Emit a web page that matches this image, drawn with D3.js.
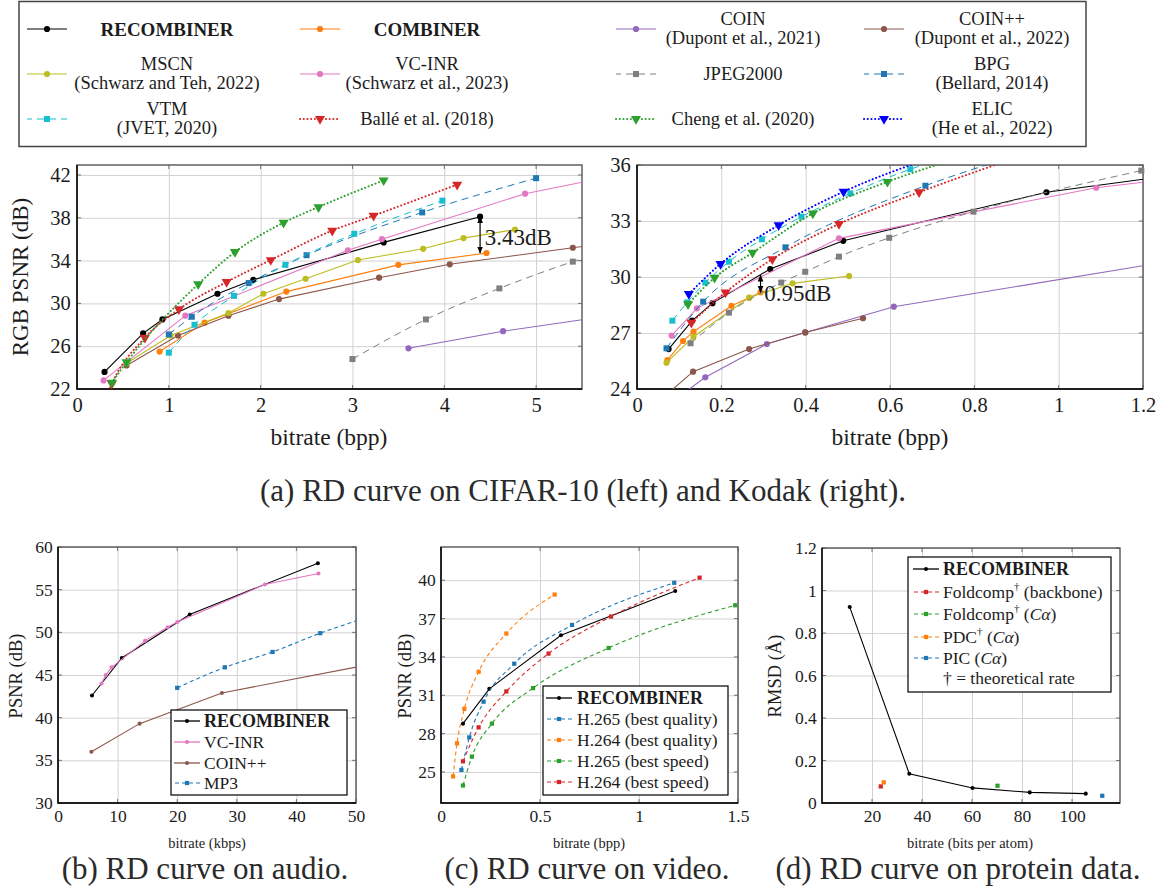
<!DOCTYPE html>
<html>
<head>
<meta charset="utf-8">
<script src="https://cdn.jsdelivr.net/npm/d3@7"></script>
<style>
body { margin: 0; background: #fff; }
svg text { font-family: 'Liberation Serif', 'DejaVu Serif', serif; }
</style>
</head>
<body>
<svg id="chart" width="1163" height="887"></svg>
<script>
'use strict';

let FONT = "'Liberation Serif', 'DejaVu Serif', serif";
let TEXT = '#1c1c1c';

// ---------- (a) CIFAR-10, [bpp, PSNR] ----------
let cifarRecombiner = [[0.30,23.6],[0.72,27.2],[0.93,28.5],[1.53,30.9],[1.92,32.2],[3.34,35.7],[4.39,38.1]];
let cifarCombiner = [[0.90,25.5],[1.39,28.2],[2.28,31.1],[3.50,33.6],[4.46,34.7]];
let cifarCoin = [[3.61,25.8],[4.64,27.4],[6.0,29.1]];
let cifarCoinpp = [[0.54,24.2],[1.10,27.0],[1.65,28.85],[2.20,30.4],[3.29,32.4],[4.06,33.65],[5.40,35.2],[6.0,35.9]];
let cifarMscn = [[0.54,24.4],[1.02,27.0],[1.65,29.1],[2.03,30.9],[2.49,32.3],[3.06,34.05],[3.77,35.1],[4.21,36.1],[4.77,36.9]];
let cifarVcinr = [[0.29,22.8],[1.18,28.85],[2.95,34.96],[3.32,36.0],[4.88,40.25],[5.9,42.0]];
let cifarJpeg2000 = [[3.0,24.8],[3.80,28.5],[4.60,31.4],[5.40,33.9],[6.2,36.0]];
let cifarBpg = [[1.0,27.1],[1.25,28.75],[1.87,31.9],[2.5,34.5],[3.76,38.5],[5.0,41.7]];
let cifarVtm = [[1.0,25.4],[1.28,28.0],[1.71,30.7],[2.27,33.6],[3.02,36.5],[3.98,39.6]];
let cifarBalle = [[0.33,21.5],[0.38,22.5],[0.74,26.8],[1.11,29.45],[1.63,32.0],[2.11,34.05],[2.78,36.8],[3.23,38.2],[4.14,41.1]];
let cifarCheng = [[0.38,22.6],[0.54,24.5],[1.32,31.8],[1.72,34.8],[2.25,37.55],[2.63,39.0],[3.34,41.5]];

// ---------- (a) Kodak ----------
let kodakRecombiner = [[0.075,26.14],[0.131,27.66],[0.179,28.6],[0.316,30.43],[0.489,31.94],[0.971,34.54],[1.4,35.84]];
let kodakCombiner = [[0.072,25.55],[0.109,26.57],[0.134,27.07],[0.224,28.46],[0.266,28.89],[0.293,29.18]];
let kodakCoin = [[0.10,23.6],[0.162,24.63],[0.308,26.41],[0.399,27.03],[0.609,28.41],[1.4,31.34]];
let kodakCoinpp = [[0.07,23.7],[0.133,24.93],[0.266,26.14],[0.399,27.03],[0.536,27.79]];
let kodakMscn = [[0.07,25.41],[0.134,26.8],[0.266,28.9],[0.369,29.66],[0.503,30.05]];
let kodakVcinr = [[0.082,26.86],[0.142,28.32],[0.479,32.07],[1.089,34.78],[1.4,35.6]];
let kodakJpeg2000 = [[0.127,26.45],[0.218,28.09],[0.342,29.7],[0.399,30.28],[0.479,31.09],[0.598,32.1],[0.798,33.5],[1.196,35.7]];
let kodakBpg = [[0.07,26.18],[0.157,28.68],[0.352,31.59],[0.684,34.89],[0.9,36.5]];
let kodakVtm = [[0.084,27.66],[0.119,28.64],[0.162,29.7],[0.218,30.82],[0.296,32.02],[0.39,33.23],[0.506,34.48],[0.648,35.77],[0.75,36.5]];
let kodakBalle = [[0.129,27.55],[0.210,29.18],[0.321,30.96],[0.479,32.84],[0.669,34.54],[0.9,36.4]];
let kodakCheng = [[0.121,28.54],[0.184,29.96],[0.274,31.3],[0.417,33.41],[0.594,35.1],[0.8,36.6]];
let kodakElic = [[0.123,29.09],[0.198,30.7],[0.336,32.78],[0.49,34.57],[0.7,36.4]];

// ---------- (b) audio, [kbps, PSNR] ----------
let audioRecombiner = [[5.7,42.6],[10.7,47.0],[22.1,52.1],[43.6,58.1]];
let audioVcinr = [[7.3,44.0],[8.0,45.0],[9.0,45.9],[14.6,49.0],[18.4,50.6],[20.0,51.2],[34.7,55.6],[43.7,56.9]];
let audioCoinpp = [[5.6,36.0],[13.7,39.3],[27.5,42.9],[55,46.6]];
let audioMp3 = [[20,43.5],[28,45.9],[36,47.7],[44,49.9],[52,51.8]];

// ---------- (c) video, [bpp, PSNR] ----------
let videoRecombiner = [[0.111,28.78],[0.244,31.5],[0.606,35.7],[1.183,39.16]];
let videoH265Quality = [[0.103,25.16],[0.143,27.7],[0.215,30.5],[0.37,33.47],[0.662,36.5],[1.178,39.8]];
let videoH264Quality = [[0.061,24.65],[0.081,27.24],[0.118,29.94],[0.19,32.84],[0.33,35.83],[0.574,38.88]];
let videoH265Speed = [[0.111,23.94],[0.156,26.2],[0.257,28.78],[0.465,31.56],[0.847,34.7],[1.486,38.04]];
let videoH264Speed = [[0.111,25.83],[0.19,28.49],[0.33,31.3],[0.543,34.26],[0.859,37.16],[1.306,40.2]];

// ---------- (d) protein, [bits per atom, RMSD] ----------
let proteinRecombiner = [[11.1,0.922],[34.9,0.138],[60.2,0.071],[83.1,0.05],[105.5,0.044]];
let proteinFoldcompBackbone = [[23.5,0.078]];
let proteinFoldcompCa = [[70.2,0.081]];
let proteinPdc = [[24.7,0.097]];
let proteinPic = [[112.1,0.034]];

// tick values
let cifarXTicks = [0,1,2,3,4,5];
let cifarYTicks = [22,26,30,34,38,42];
let kodakXTicks = [0,0.2,0.4,0.6,0.8,1,1.2];
let kodakYTicks = [24,27,30,33,36];
let audioXTicks = [0,10,20,30,40,50];
let audioYTicks = [30,35,40,45,50,55,60];
let videoXTicks = [0,0.5,1,1.5];
let videoYTicks = [25,28,31,34,37,40];
let proteinXTicks = [20,40,60,80,100];
let proteinYTicks = [0,0.2,0.4,0.6,0.8,1,1.2];

let STYLE = {
    recombiner: {color: '#000000', marker: 'circle'},
    combiner:   {color: '#ff7f0e', marker: 'circle'},
    coin:       {color: '#9467bd', marker: 'circle'},
    coinpp:     {color: '#8c564b', marker: 'circle'},
    mscn:       {color: '#bcbd22', marker: 'circle'},
    vcinr:      {color: '#e377c2', marker: 'circle'},
    jpeg2000:   {color: '#7f7f7f', marker: 'square', dash: true},
    bpg:        {color: '#1f77b4', marker: 'square', dash: true},
    vtm:        {color: '#17becf', marker: 'square', dash: true},
    balle:      {color: '#d62728', marker: 'tri', dot: true},
    cheng:      {color: '#2ca02c', marker: 'tri', dot: true},
    elic:       {color: '#0000ff', marker: 'tri', dot: true},
    vBlue:      {color: '#1f77b4', marker: 'square', dash: true},
    vOrange:    {color: '#ff7f0e', marker: 'square', dash: true},
    vGreen:     {color: '#2ca02c', marker: 'square', dash: true},
    vRed:       {color: '#d62728', marker: 'square', dash: true}
};

let svg = d3.select('#chart');
let defs = svg.append('defs');
defs.append('marker').attr('id', 'arrowHead')
    .attr('viewBox', '0 0 10 10').attr('refX', 9).attr('refY', 5)
    .attr('markerWidth', 6).attr('markerHeight', 6)
    .attr('orient', 'auto-start-reverse')
    .append('path').attr('d', 'M0,1 L10,5 L0,9 z').attr('fill', '#000');

function styleTicks(a, fs) {
    a.attr('font-family', null);
    a.selectAll('text').attr('font-size', fs).style('font-family', FONT).attr('fill', TEXT);
}

function makePanel(name, box, xDomain, yDomain, xTicks, yTicks, tickFs) {
    let x = d3.scaleLinear().domain(xDomain).range([box.left, box.right]);
    let y = d3.scaleLinear().domain(yDomain).range([box.bottom, box.top]);
    let w = box.right - box.left, h = box.bottom - box.top;
    defs.append('clipPath').attr('id', 'clip-' + name).append('rect')
        .attr('x', box.left).attr('y', box.top).attr('width', w).attr('height', h);

    let g = svg.append('g');
    // grid + tick labels from d3 axes
    g.append('g').attr('transform', 'translate(0,' + box.bottom + ')')
        .call(d3.axisBottom(x).tickValues(xTicks).tickSize(-h).tickPadding(tickFs * 0.4).tickFormat(d3.format('~g')))
        .call(a => a.select('.domain').remove())
        .call(a => a.selectAll('line').attr('stroke', '#d2d2d2'))
        .call(a => styleTicks(a, tickFs));
    g.append('g').attr('transform', 'translate(' + box.left + ',0)')
        .call(d3.axisLeft(y).tickValues(yTicks).tickSize(-w).tickPadding(tickFs * 0.3).tickFormat(d3.format('~g')))
        .call(a => a.select('.domain').remove())
        .call(a => a.selectAll('line').attr('stroke', '#d2d2d2'))
        .call(a => styleTicks(a, tickFs));

    // small inner tick marks on all four sides
    let tk = g.append('g').attr('stroke', '#555').attr('stroke-width', 0.8);
    xTicks.forEach(function(v) {
        tk.append('line').attr('x1', x(v)).attr('x2', x(v)).attr('y1', box.bottom).attr('y2', box.bottom - 4);
        tk.append('line').attr('x1', x(v)).attr('x2', x(v)).attr('y1', box.top).attr('y2', box.top + 4);
    });
    yTicks.forEach(function(v) {
        tk.append('line').attr('y1', y(v)).attr('y2', y(v)).attr('x1', box.left).attr('x2', box.left + 4);
        tk.append('line').attr('y1', y(v)).attr('y2', y(v)).attr('x1', box.right).attr('x2', box.right - 4);
    });

    // frame
    g.append('rect').attr('x', box.left).attr('y', box.top).attr('width', w).attr('height', h)
        .attr('fill', 'none').attr('stroke', '#555').attr('stroke-width', 1.4);
    g.append('path').attr('d', 'M' + box.left + ',' + box.top + 'V' + box.bottom + 'H' + box.right)
        .attr('fill', 'none').attr('stroke', '#000').attr('stroke-width', 1.4);

    let sg = svg.append('g');
    return {x: x, y: y, g: sg, clip: 'url(#clip-' + name + ')', xDomain: xDomain, yDomain: yDomain};
}

function markerPath(kind, big) {
    if (kind === 'circle') return d3.symbol().type(d3.symbolCircle).size(big ? 30 : 13)();
    if (kind === 'square') return d3.symbol().type(d3.symbolSquare).size(big ? 36 : 18)();
    return d3.symbol().type(d3.symbolTriangle).size(big ? 44 : 20)();
}

function drawMarker(g, kind, color, px, py, big) {
    g.append('path').attr('d', markerPath(kind, big))
        .attr('transform', 'translate(' + px + ',' + py + ')' + (kind === 'tri' ? ' rotate(180)' : ''))
        .attr('fill', color).attr('stroke', 'none');
}

function drawSeries(p, data, st, big) {
    let curved = st.dash || st.dot;
    let line = d3.line().x(d => p.x(d[0])).y(d => p.y(d[1]))
        .curve(curved ? d3.curveMonotoneX : d3.curveLinear);
    let path = p.g.append('path').attr('d', line(data)).attr('clip-path', p.clip)
        .attr('fill', 'none').attr('stroke', st.color);
    if (st.dot) {
        path.attr('stroke-width', 2).attr('stroke-dasharray', '0.1,3.6').attr('stroke-linecap', 'round');
    } else if (st.dash) {
        path.attr('stroke-width', big ? 1 : 1.1).attr('stroke-dasharray', big ? '7,5' : '4,3');
    } else {
        path.attr('stroke-width', 1.1);
    }
    data.forEach(function(d) {
        if (d[0] < p.xDomain[0] || d[0] > p.xDomain[1] || d[1] < p.yDomain[0] || d[1] > p.yDomain[1]) return;
        drawMarker(p.g, st.marker, st.color, p.x(d[0]), p.y(d[1]), big);
    });
}

function addText(x, y, str, size, opts) {
    opts = opts || {};
    let t = svg.append('text').attr('x', x).attr('y', y).text(str)
        .style('font-family', FONT).attr('font-size', size).attr('fill', opts.fill || TEXT)
        .attr('text-anchor', opts.anchor || 'middle').attr('dominant-baseline', 'central');
    if (opts.bold) t.attr('font-weight', 'bold');
    if (opts.rotate) t.attr('transform', 'rotate(-90,' + x + ',' + y + ')');
    return t;
}

function doubleArrow(p, xv, y1, y2) {
    p.g.append('line').attr('x1', p.x(xv)).attr('x2', p.x(xv))
        .attr('y1', p.y(y1)).attr('y2', p.y(y2))
        .attr('stroke', '#000').attr('stroke-width', 1.2)
        .attr('marker-start', 'url(#arrowHead)').attr('marker-end', 'url(#arrowHead)');
}

// ================= top legend =================
let topLegend = [
    {key: 'recombiner', lines: ['RECOMBINER'], bold: true},
    {key: 'combiner', lines: ['COMBINER'], bold: true},
    {key: 'coin', lines: ['COIN', '(Dupont et al., 2021)']},
    {key: 'coinpp', lines: ['COIN++', '(Dupont et al., 2022)']},
    {key: 'mscn', lines: ['MSCN', '(Schwarz and Teh, 2022)']},
    {key: 'vcinr', lines: ['VC-INR', '(Schwarz et al., 2023)']},
    {key: 'jpeg2000', lines: ['JPEG2000']},
    {key: 'bpg', lines: ['BPG', '(Bellard, 2014)']},
    {key: 'vtm', lines: ['VTM', '(JVET, 2020)']},
    {key: 'balle', lines: ['Ballé et al. (2018)']},
    {key: 'cheng', lines: ['Cheng et al. (2020)']},
    {key: 'elic', lines: ['ELIC', '(He et al., 2022)']}
];
svg.append('rect').attr('x', 19).attr('y', 1.5).attr('width', 1067).attr('height', 145)
    .attr('fill', '#fff').attr('stroke', '#444').attr('stroke-width', 1.5);
let colSample = [27, 300, 616, 864];
let colText = [167, 427, 743, 992];
let rowY = [29, 74, 119];
topLegend.forEach(function(e, i) {
    let c = i % 4, r = Math.floor(i / 4);
    let st = STYLE[e.key];
    let yy = rowY[r], x0 = colSample[c];
    let ln = svg.append('line').attr('x1', x0).attr('x2', x0 + 40).attr('y1', yy).attr('y2', yy)
        .attr('stroke', st.color);
    if (st.dot) ln.attr('stroke-width', 2).attr('stroke-dasharray', '0.1,3.6').attr('stroke-linecap', 'round');
    else if (st.dash) ln.attr('stroke-width', 1).attr('stroke-dasharray', '7,5').attr('stroke-dashoffset', 2);
    else ln.attr('stroke-width', 1.1);
    drawMarker(svg, st.marker, st.color, x0 + 20, yy, true);
    if (e.lines.length === 1) {
        addText(colText[c], yy, e.lines[0], e.bold ? 19 : 18.5, {bold: e.bold});
    } else {
        addText(colText[c], yy - 10, e.lines[0], 18.5);
        addText(colText[c], yy + 9, e.lines[1], 18.5);
    }
});

// ================= (a) CIFAR-10 =================
let pc = makePanel('cifar', {left: 77, right: 582, top: 165, bottom: 389}, [0, 5.5], [22, 42.93], cifarXTicks, cifarYTicks, 20.5);
[[cifarRecombiner, 'recombiner'], [cifarCombiner, 'combiner'], [cifarCoin, 'coin'], [cifarCoinpp, 'coinpp'],
 [cifarMscn, 'mscn'], [cifarVcinr, 'vcinr'], [cifarJpeg2000, 'jpeg2000'], [cifarBpg, 'bpg'],
 [cifarVtm, 'vtm'], [cifarBalle, 'balle'], [cifarCheng, 'cheng']].forEach(function(s) {
    drawSeries(pc, s[0], STYLE[s[1]], true);
});
doubleArrow(pc, 4.39, 38.1, 34.7);
addText(pc.x(4.44), pc.y(36.2), '3.43dB', 23, {anchor: 'start'});
addText(20, 277, 'RGB PSNR (dB)', 23, {rotate: true});
addText(329, 437, 'bitrate (bpp)', 23.5);

// ================= (a) Kodak =================
let pk = makePanel('kodak', {left: 637, right: 1143, top: 165, bottom: 389}, [0, 1.2], [24, 36], kodakXTicks, kodakYTicks, 20.5);
[[kodakRecombiner, 'recombiner'], [kodakCombiner, 'combiner'], [kodakCoin, 'coin'], [kodakCoinpp, 'coinpp'],
 [kodakMscn, 'mscn'], [kodakVcinr, 'vcinr'], [kodakJpeg2000, 'jpeg2000'], [kodakBpg, 'bpg'],
 [kodakVtm, 'vtm'], [kodakBalle, 'balle'], [kodakCheng, 'cheng'], [kodakElic, 'elic']].forEach(function(s) {
    drawSeries(pk, s[0], STYLE[s[1]], true);
});
doubleArrow(pk, 0.293, 30.1, 29.18);
addText(pk.x(0.302), pk.y(29.1), '0.95dB', 23, {anchor: 'start'});
addText(890, 437, 'bitrate (bpp)', 23.5);

addText(583, 490, '(a) RD curve on CIFAR-10 (left) and Kodak (right).', 31, {fill: '#2a2a2a'});

// ================= bottom legends helper =================
function smallLegend(box, rows, sx, tx) {
    svg.append('rect').attr('x', box.left).attr('y', box.top)
        .attr('width', box.right - box.left).attr('height', box.bottom - box.top)
        .attr('fill', '#fff').attr('stroke', '#000').attr('stroke-width', 1.2);
    rows.forEach(function(r) {
        if (r.style) {
            let st = r.style;
            let ln = svg.append('line').attr('x1', sx).attr('x2', sx + 26).attr('y1', r.y).attr('y2', r.y)
                .attr('stroke', st.color).attr('stroke-width', st.dash ? 1.1 : 1.3);
            if (st.dash) ln.attr('stroke-dasharray', '4,3').attr('stroke-dashoffset', -1);
            drawMarker(svg, st.marker, st.color, sx + 13, r.y, false);
        }
        let t = svg.append('text').attr('x', tx).attr('y', r.y)
            .style('font-family', FONT).attr('font-size', 17.5).attr('fill', TEXT)
            .attr('dominant-baseline', 'central');
        if (r.bold) t.attr('font-weight', 'bold').attr('font-size', 18);
        r.parts.forEach(function(pt) {
            let ts = t.append('tspan').text(pt.t);
            if (pt.it) ts.attr('font-style', 'italic');
            if (pt.sup) ts.attr('font-size', 11).attr('baseline-shift', '55%');
        });
    });
}

// ================= (b) audio =================
let pa = makePanel('audio', {left: 58, right: 356, top: 547, bottom: 803}, [0, 50], [30, 60], audioXTicks, audioYTicks, 17.5);
drawSeries(pa, audioRecombiner, STYLE.recombiner, false);
drawSeries(pa, audioVcinr, STYLE.vcinr, false);
drawSeries(pa, audioCoinpp, STYLE.coinpp, false);
drawSeries(pa, audioMp3, STYLE.bpg, false);
smallLegend({left: 171, top: 710, right: 347, bottom: 795}, [
    {y: 721, style: STYLE.recombiner, bold: true, parts: [{t: 'RECOMBINER'}]},
    {y: 742, style: STYLE.vcinr, parts: [{t: 'VC-INR'}]},
    {y: 763, style: STYLE.coinpp, parts: [{t: 'COIN++'}]},
    {y: 783, style: STYLE.bpg, parts: [{t: 'MP3'}]}
], 174, 204);
addText(16, 676, 'PSNR (dB)', 18.5, {rotate: true});
addText(207, 843, 'bitrate (kbps)', 14.5);
addText(205, 868, '(b) RD curve on audio.', 31, {fill: '#2a2a2a'});

// ================= (c) video =================
let pv = makePanel('video', {left: 441, right: 738, top: 547, bottom: 803}, [0, 1.5], [22.57, 42.6], videoXTicks, videoYTicks, 17.5);
drawSeries(pv, videoRecombiner, STYLE.recombiner, false);
drawSeries(pv, videoH265Quality, STYLE.vBlue, false);
drawSeries(pv, videoH264Quality, STYLE.vOrange, false);
drawSeries(pv, videoH265Speed, STYLE.vGreen, false);
drawSeries(pv, videoH264Speed, STYLE.vRed, false);
smallLegend({left: 543, top: 686, right: 728, bottom: 795}, [
    {y: 698, style: STYLE.recombiner, bold: true, parts: [{t: 'RECOMBINER'}]},
    {y: 719, style: STYLE.vBlue, parts: [{t: 'H.265 (best quality)'}]},
    {y: 740, style: STYLE.vOrange, parts: [{t: 'H.264 (best quality)'}]},
    {y: 761, style: STYLE.vGreen, parts: [{t: 'H.265 (best speed)'}]},
    {y: 782, style: STYLE.vRed, parts: [{t: 'H.264 (best speed)'}]}
], 546, 577);
addText(405, 676, 'PSNR (dB)', 18.5, {rotate: true});
addText(589, 843, 'bitrate (bpp)', 14.5);
addText(587, 868, '(c) RD curve on video.', 31, {fill: '#2a2a2a'});

// ================= (d) protein =================
let pp = makePanel('protein', {left: 822, right: 1120, top: 548, bottom: 803}, [0, 119.2], [0, 1.2], proteinXTicks, proteinYTicks, 17.5);
drawSeries(pp, proteinRecombiner, STYLE.recombiner, false);
drawSeries(pp, proteinFoldcompBackbone, STYLE.vRed, false);
drawSeries(pp, proteinFoldcompCa, STYLE.vGreen, false);
drawSeries(pp, proteinPdc, STYLE.vOrange, false);
drawSeries(pp, proteinPic, STYLE.vBlue, false);
smallLegend({left: 908, top: 557, right: 1111, bottom: 692}, [
    {y: 569, style: STYLE.recombiner, bold: true, parts: [{t: 'RECOMBINER'}]},
    {y: 592, style: STYLE.vRed, parts: [{t: 'Foldcomp'}, {t: '†', sup: true}, {t: ' (backbone)'}]},
    {y: 614, style: STYLE.vGreen, parts: [{t: 'Foldcomp'}, {t: '†', sup: true}, {t: ' ('}, {t: 'Cα', it: true}, {t: ')'}]},
    {y: 637, style: STYLE.vOrange, parts: [{t: 'PDC'}, {t: '†', sup: true}, {t: ' ('}, {t: 'Cα', it: true}, {t: ')'}]},
    {y: 658, style: STYLE.vBlue, parts: [{t: 'PIC ('}, {t: 'Cα', it: true}, {t: ')'}]},
    {y: 678, parts: [{t: '† = theoretical rate'}]}
], 913, 943);
addText(775, 676, 'RMSD (Å)', 18.5, {rotate: true});
addText(970, 843, 'bitrate (bits per atom)', 14.5);
addText(958, 868, '(d) RD curve on protein data.', 31, {fill: '#2a2a2a'});
</script>
</body>
</html>
